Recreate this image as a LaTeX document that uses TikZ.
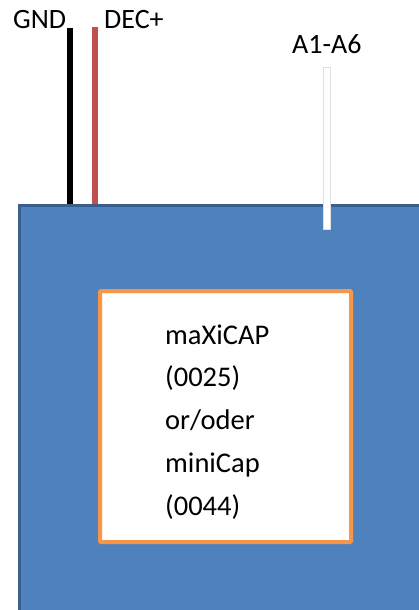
\documentclass[tikz,border=0pt]{standalone}
\usepackage{fontspec}
\setmainfont{Carlito}
\definecolor{boardblue}{HTML}{4F81BD}
\definecolor{boardedge}{HTML}{3A5F8F}
\definecolor{wirered}{HTML}{C0504D}
\definecolor{capframe}{HTML}{F79646}
\tikzset{
	board/.style={fill=boardblue, draw=boardedge, line width=3pt},
	wire/.style={line width=6pt},
	pinlabel/.style={anchor=base west, inner sep=0pt, font=\fontsize{28}{32}\selectfont},
	captext/.style={anchor=base west, inner sep=0pt, font=\fontsize{28.5}{32}\selectfont}
}
\begin{document}
\begin{tikzpicture}[x=1pt, y=-1pt]
	\useasboundingbox (0,0) rectangle (419,610);
	\clip (0,0) rectangle (419,610);

	% labels
	\node[pinlabel] (gnd) at (13,29) {GND};
	\node[pinlabel] (dec) at (104,29) {DEC+};
	\node[pinlabel] (aio) at (292,53) {A1-A6};

	% wires
	\coordinate (gndtop) at (70,28);
	\coordinate (gndbot) at (70,205);
	\coordinate (dectop) at (95,27);
	\coordinate (decbot) at (95,207);
	\draw[wire, black] (gndtop) -- (gndbot);
	\draw[wire, wirered] (dectop) -- (decbot);

	% board
	\draw[board] (19.5,205.5) rectangle (440,640);

	% analog pin
	\draw[fill=white, draw=black!12, line width=0.8pt] (323.5,67) rectangle (330,229);

	% capacitor module
	\draw[fill=white, draw=capframe, line width=4pt, rounded corners=1pt] (100,291) rectangle (351,542) coordinate (box);
	\foreach \txt [count=\i] in {maXiCAP,(0025),or/oder,miniCap,(0044)}
		\node[captext] (cap\i) at (165,{344+42.8*(\i-1)}) {\txt};

\end{tikzpicture}
\end{document}
